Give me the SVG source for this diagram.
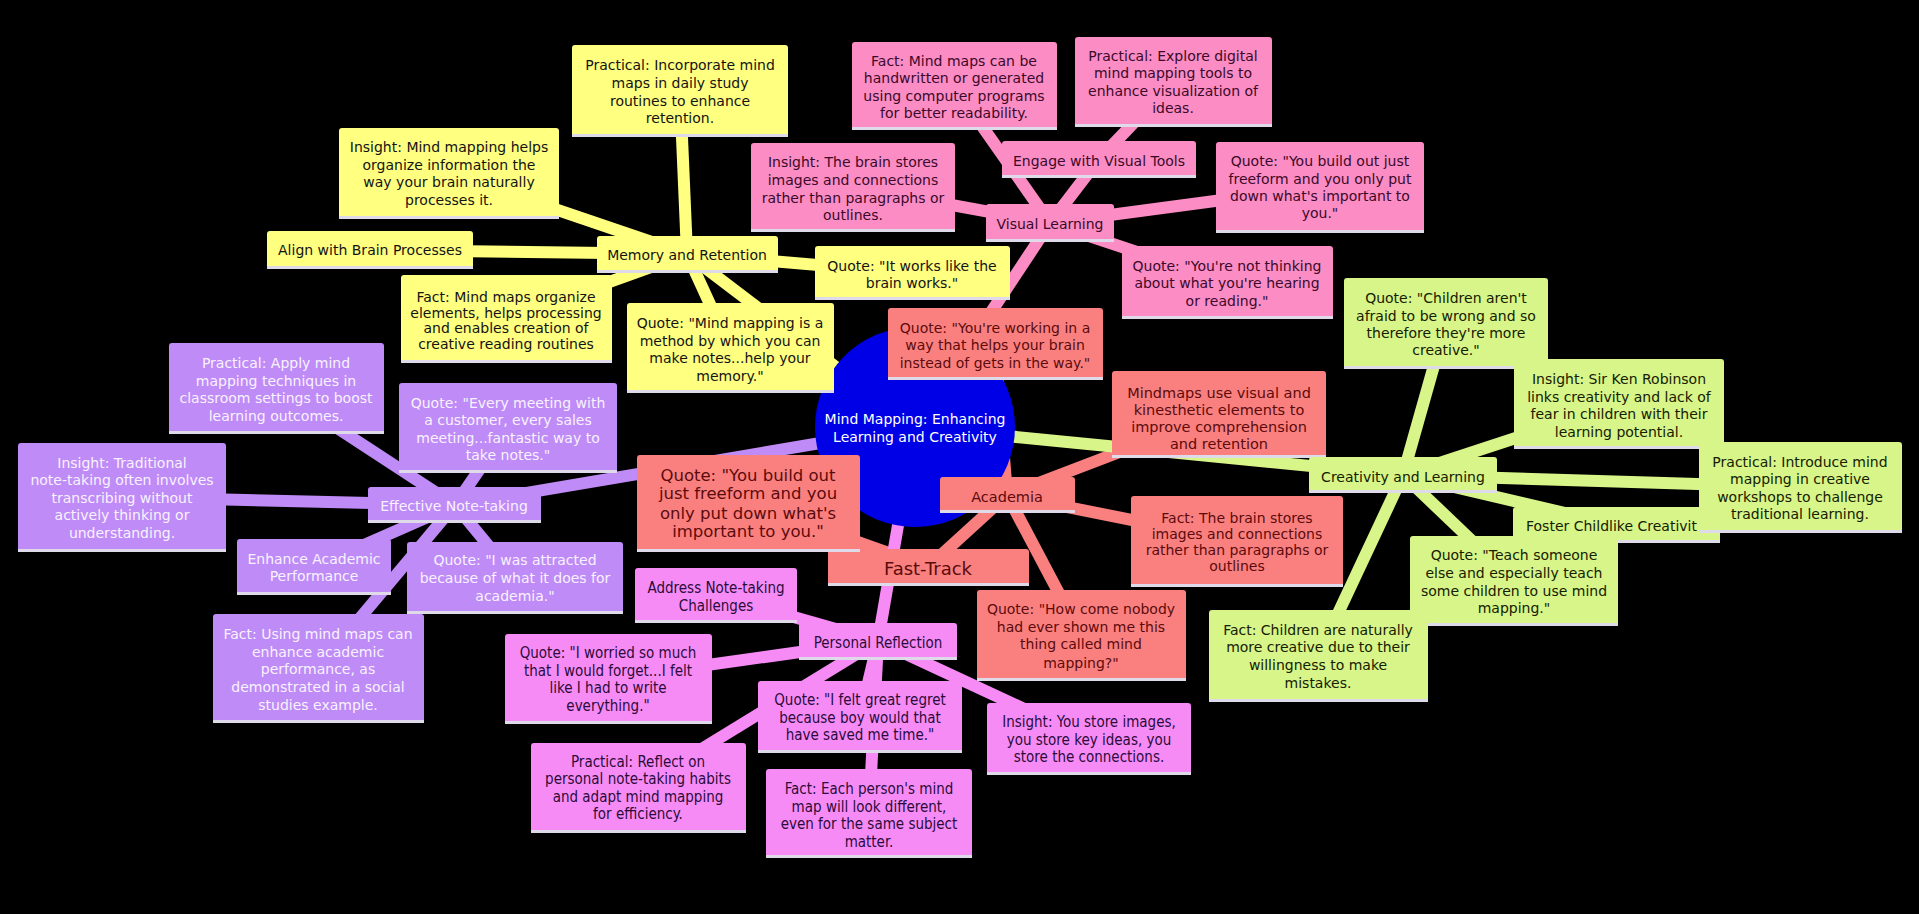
<svg xmlns="http://www.w3.org/2000/svg" width="1919" height="914" viewBox="0 0 1919 914">
<style>
  text { font-family: "DejaVu Sans", "Liberation Sans", sans-serif; font-size: 14px; text-anchor: middle; }
  .node rect.b { rx: 3px; ry: 3px; }
  .node rect.e { fill: #dedaea; }
  .y rect.b { fill: #ffff80; } .y text { fill: #141414; }
  .p rect.b { fill: #fb8cc4; } .p text { fill: #3b0a2a; }
  .s rect.b { fill: #fa8080; } .s text { fill: #5c0b0b; }
  .g rect.b { fill: #d7f589; } .g text { fill: #162000; }
  .u rect.b { fill: #bf8bf7; } .u text { fill: #f8f2ff; }
  .m rect.b { fill: #f78bf5; } .m text { fill: #2b0b3b; font-family: "DejaVu Sans Condensed", "DejaVu Sans", sans-serif; font-stretch: condensed; font-size: 15px; }
  #connectors line { stroke-width: 12; stroke-linecap: butt; }
  .cy { stroke: #ffff80; } .cp { stroke: #fb8cc4; } .cs { stroke: #fa8080; }
  .cg { stroke: #d7f589; } .cu { stroke: #bf8bf7; } .cm { stroke: #f78bf5; }
</style>
<rect x="0" y="0" width="1919" height="914" fill="#000000"/>
<g id="connectors">
  <line class="cy" x1="915" y1="427" x2="687" y2="254"/>
  <line class="cy" x1="687" y1="254" x2="680" y2="91"/>
  <line class="cy" x1="687" y1="254" x2="449" y2="173"/>
  <line class="cy" x1="687" y1="254" x2="370" y2="250"/>
  <line class="cy" x1="687" y1="254" x2="506" y2="319"/>
  <line class="cy" x1="687" y1="254" x2="912" y2="273"/>
  <line class="cy" x1="687" y1="254" x2="730" y2="348"/>
  <line class="cp" x1="915" y1="427" x2="1050" y2="223"/>
  <line class="cp" x1="1050" y1="223" x2="1099" y2="159"/>
  <line class="cp" x1="1050" y1="223" x2="954" y2="86"/>
  <line class="cp" x1="1099" y1="159" x2="1173" y2="82"/>
  <line class="cp" x1="1050" y1="223" x2="853" y2="187"/>
  <line class="cp" x1="1050" y1="223" x2="1320" y2="187"/>
  <line class="cp" x1="1050" y1="223" x2="1227" y2="282"/>
  <line class="cs" x1="915" y1="427" x2="1007" y2="495"/>
  <line class="cs" x1="1007" y1="495" x2="995" y2="344"/>
  <line class="cs" x1="1007" y1="495" x2="1219" y2="414"/>
  <line class="cs" x1="1007" y1="495" x2="1237" y2="541"/>
  <line class="cs" x1="1007" y1="495" x2="1081" y2="635"/>
  <line class="cs" x1="1007" y1="495" x2="928" y2="567"/>
  <line class="cs" x1="928" y1="567" x2="748" y2="503"/>
  <line class="cg" x1="915" y1="427" x2="1403" y2="475"/>
  <line class="cg" x1="1403" y1="475" x2="1446" y2="323"/>
  <line class="cg" x1="1403" y1="475" x2="1619" y2="404"/>
  <line class="cg" x1="1403" y1="475" x2="1800" y2="487"/>
  <line class="cg" x1="1403" y1="475" x2="1616" y2="525"/>
  <line class="cg" x1="1403" y1="475" x2="1514" y2="581"/>
  <line class="cg" x1="1403" y1="475" x2="1318" y2="656"/>
  <line class="cu" x1="915" y1="427" x2="455" y2="505"/>
  <line class="cu" x1="455" y1="505" x2="276" y2="388"/>
  <line class="cu" x1="455" y1="505" x2="122" y2="497"/>
  <line class="cu" x1="455" y1="505" x2="508" y2="428"/>
  <line class="cu" x1="455" y1="505" x2="314" y2="567"/>
  <line class="cu" x1="455" y1="505" x2="515" y2="578"/>
  <line class="cu" x1="455" y1="505" x2="318" y2="668"/>
  <line class="cm" x1="915" y1="427" x2="878" y2="641"/>
  <line class="cm" x1="878" y1="641" x2="716" y2="595"/>
  <line class="cm" x1="878" y1="641" x2="608" y2="679"/>
  <line class="cm" x1="878" y1="641" x2="860" y2="717"/>
  <line class="cm" x1="878" y1="641" x2="1089" y2="739"/>
  <line class="cm" x1="878" y1="641" x2="638" y2="788"/>
  <line class="cm" x1="878" y1="641" x2="869" y2="813"/>
</g>
<g id="root">
  <circle cx="915" cy="427" r="100" fill="#0000e6"/>
  <text fill="#ffffff"><tspan x="915" y="424">Mind Mapping: Enhancing</tspan><tspan x="915" y="442">Learning and Creativity</tspan></text>
</g>

<!-- Yellow: Memory and Retention -->
<g id="n-memory-insight" class="node y"><rect class="b" x="339" y="128" width="220" height="91"/><rect class="e" x="339" y="216" width="220" height="3"/>
  <text><tspan x="449" y="152">Insight: Mind mapping helps</tspan><tspan x="449" y="170">organize information the</tspan><tspan x="449" y="187">way your brain naturally</tspan><tspan x="449" y="205">processes it.</tspan></text></g>
<g id="n-align" class="node y"><rect class="b" x="267" y="231" width="206" height="38"/><rect class="e" x="267" y="266" width="206" height="3"/>
  <text><tspan x="370" y="255">Align with Brain Processes</tspan></text></g>
<g id="n-memory-fact" class="node y"><rect class="b" x="401" y="275" width="211" height="88"/><rect class="e" x="401" y="360" width="211" height="3"/>
  <text><tspan x="506" y="302">Fact: Mind maps organize</tspan><tspan x="506" y="318">elements, helps processing</tspan><tspan x="506" y="333">and enables creation of</tspan><tspan x="506" y="349">creative reading routines</tspan></text></g>
<g id="n-memory-practical" class="node y"><rect class="b" x="572" y="45" width="216" height="92"/><rect class="e" x="572" y="134" width="216" height="3"/>
  <text><tspan x="680" y="70">Practical: Incorporate mind</tspan><tspan x="680" y="88">maps in daily study</tspan><tspan x="680" y="106">routines to enhance</tspan><tspan x="680" y="123">retention.</tspan></text></g>
<g id="n-memory" class="node y"><rect class="b" x="597" y="236" width="181" height="37"/><rect class="e" x="597" y="270" width="181" height="3"/>
  <text><tspan x="687" y="260">Memory and Retention</tspan></text></g>
<g id="n-itworks" class="node y"><rect class="b" x="815" y="246" width="195" height="54"/><rect class="e" x="815" y="297" width="195" height="3"/>
  <text><tspan x="912" y="271">Quote: "It works like the</tspan><tspan x="912" y="288">brain works."</tspan></text></g>
<g id="n-quote-mm" class="node y"><rect class="b" x="627" y="303" width="207" height="90"/><rect class="e" x="627" y="390" width="207" height="3"/>
  <text><tspan x="730" y="328">Quote: "Mind mapping is a</tspan><tspan x="730" y="346">method by which you can</tspan><tspan x="730" y="363">make notes...help your</tspan><tspan x="730" y="381">memory."</tspan></text></g>

<!-- Pink: Visual Learning -->
<g id="n-visual-fact" class="node p"><rect class="b" x="852" y="42" width="205" height="88"/><rect class="e" x="852" y="127" width="205" height="3"/>
  <text><tspan x="954" y="66">Fact: Mind maps can be</tspan><tspan x="954" y="83">handwritten or generated</tspan><tspan x="954" y="101">using computer programs</tspan><tspan x="954" y="118">for better readability.</tspan></text></g>
<g id="n-visual-practical" class="node p"><rect class="b" x="1075" y="37" width="197" height="90"/><rect class="e" x="1075" y="124" width="197" height="3"/>
  <text><tspan x="1173" y="61">Practical: Explore digital</tspan><tspan x="1173" y="78">mind mapping tools to</tspan><tspan x="1173" y="96">enhance visualization of</tspan><tspan x="1173" y="113">ideas.</tspan></text></g>
<g id="n-visual-insight" class="node p"><rect class="b" x="751" y="143" width="204" height="89"/><rect class="e" x="751" y="229" width="204" height="3"/>
  <text><tspan x="853" y="167">Insight: The brain stores</tspan><tspan x="853" y="185">images and connections</tspan><tspan x="853" y="203">rather than paragraphs or</tspan><tspan x="853" y="220">outlines.</tspan></text></g>
<g id="n-engage" class="node p"><rect class="b" x="1002" y="141" width="194" height="37"/><rect class="e" x="1002" y="175" width="194" height="3"/>
  <text><tspan x="1099" y="166">Engage with Visual Tools</tspan></text></g>
<g id="n-visual" class="node p"><rect class="b" x="986" y="204" width="128" height="38"/><rect class="e" x="986" y="239" width="128" height="3"/>
  <text><tspan x="1050" y="229">Visual Learning</tspan></text></g>
<g id="n-visual-quote-build" class="node p"><rect class="b" x="1216" y="142" width="208" height="91"/><rect class="e" x="1216" y="230" width="208" height="3"/>
  <text><tspan x="1320" y="166">Quote: "You build out just</tspan><tspan x="1320" y="184">freeform and you only put</tspan><tspan x="1320" y="201">down what's important to</tspan><tspan x="1320" y="218">you."</tspan></text></g>
<g id="n-visual-quote-not" class="node p"><rect class="b" x="1122" y="246" width="211" height="73"/><rect class="e" x="1122" y="316" width="211" height="3"/>
  <text><tspan x="1227" y="271">Quote: "You're not thinking</tspan><tspan x="1227" y="288">about what you're hearing</tspan><tspan x="1227" y="306">or reading."</tspan></text></g>

<!-- Salmon: Academia -->
<g id="n-working" class="node s"><rect class="b" x="888" y="308" width="215" height="72"/><rect class="e" x="888" y="377" width="215" height="3"/>
  <text><tspan x="995" y="333">Quote: "You're working in a</tspan><tspan x="995" y="350">way that helps your brain</tspan><tspan x="995" y="368">instead of gets in the way."</tspan></text></g>
<g id="n-mindmaps" class="node s"><rect class="b" x="1112" y="371" width="214" height="87"/><rect class="e" x="1112" y="455" width="214" height="3"/>
  <text style="font-size:14.5px"><tspan x="1219" y="398">Mindmaps use visual and</tspan><tspan x="1219" y="415">kinesthetic elements to</tspan><tspan x="1219" y="432">improve comprehension</tspan><tspan x="1219" y="449">and retention</tspan></text></g>
<g id="n-academia-fact" class="node s"><rect class="b" x="1131" y="496" width="212" height="91"/><rect class="e" x="1131" y="584" width="212" height="3"/>
  <text><tspan x="1237" y="523">Fact: The brain stores</tspan><tspan x="1237" y="539">images and connections</tspan><tspan x="1237" y="555">rather than paragraphs or</tspan><tspan x="1237" y="571">outlines</tspan></text></g>
<g id="n-howcome" class="node s"><rect class="b" x="977" y="590" width="209" height="91"/><rect class="e" x="977" y="678" width="209" height="3"/>
  <text><tspan x="1081" y="614">Quote: "How come nobody</tspan><tspan x="1081" y="632">had ever shown me this</tspan><tspan x="1081" y="649">thing called mind</tspan><tspan x="1081" y="668">mapping?"</tspan></text></g>
<g id="n-fasttrack" class="node s"><rect class="b" x="828" y="549" width="201" height="37"/><rect class="e" x="828" y="583" width="201" height="3"/>
  <text style="font-size:18px"><tspan x="928" y="575">Fast-Track</tspan></text></g>
<g id="n-academia-quote-build" class="node s"><rect class="b" x="637" y="455" width="223" height="97"/><rect class="e" x="637" y="549" width="223" height="3"/>
  <text style="font-size:16.5px"><tspan x="748" y="481">Quote: "You build out</tspan><tspan x="748" y="499">just freeform and you</tspan><tspan x="748" y="519">only put down what's</tspan><tspan x="748" y="537">important to you."</tspan></text></g>
<g id="n-academia" class="node s"><rect class="b" x="940" y="477" width="135" height="36"/><rect class="e" x="940" y="510" width="135" height="3"/>
  <text style="font-size:14.5px"><tspan x="1007" y="502">Academia</tspan></text></g>

<!-- Green: Creativity and Learning -->
<g id="n-children" class="node g"><rect class="b" x="1344" y="278" width="204" height="91"/><rect class="e" x="1344" y="366" width="204" height="3"/>
  <text><tspan x="1446" y="303">Quote: "Children aren't</tspan><tspan x="1446" y="321">afraid to be wrong and so</tspan><tspan x="1446" y="338">therefore they're more</tspan><tspan x="1446" y="355">creative."</tspan></text></g>
<g id="n-creativity-insight" class="node g"><rect class="b" x="1514" y="359" width="210" height="90"/><rect class="e" x="1514" y="446" width="210" height="3"/>
  <text><tspan x="1619" y="384">Insight: Sir Ken Robinson</tspan><tspan x="1619" y="402">links creativity and lack of</tspan><tspan x="1619" y="419">fear in children with their</tspan><tspan x="1619" y="437">learning potential.</tspan></text></g>
<g id="n-creativity" class="node g"><rect class="b" x="1309" y="457" width="188" height="36"/><rect class="e" x="1309" y="490" width="188" height="3"/>
  <text><tspan x="1403" y="482">Creativity and Learning</tspan></text></g>
<g id="n-foster" class="node g"><rect class="b" x="1513" y="507" width="207" height="36"/><rect class="e" x="1513" y="540" width="207" height="3"/>
  <text style="text-anchor:start"><tspan x="1526" y="531">Foster Childlike Creativit</tspan></text></g>
<g id="n-creativity-practical" class="node g"><rect class="b" x="1699" y="442" width="203" height="91"/><rect class="e" x="1699" y="530" width="203" height="3"/>
  <text><tspan x="1800" y="467">Practical: Introduce mind</tspan><tspan x="1800" y="484">mapping in creative</tspan><tspan x="1800" y="502">workshops to challenge</tspan><tspan x="1800" y="519">traditional learning.</tspan></text></g>
<g id="n-teach" class="node g"><rect class="b" x="1410" y="536" width="208" height="90"/><rect class="e" x="1410" y="623" width="208" height="3"/>
  <text><tspan x="1514" y="560">Quote: "Teach someone</tspan><tspan x="1514" y="578">else and especially teach</tspan><tspan x="1514" y="596">some children to use mind</tspan><tspan x="1514" y="613">mapping."</tspan></text></g>
<g id="n-creativity-fact" class="node g"><rect class="b" x="1209" y="610" width="219" height="92"/><rect class="e" x="1209" y="699" width="219" height="3"/>
  <text><tspan x="1318" y="635">Fact: Children are naturally</tspan><tspan x="1318" y="652">more creative due to their</tspan><tspan x="1318" y="670">willingness to make</tspan><tspan x="1318" y="688">mistakes.</tspan></text></g>

<!-- Purple: Effective Note-taking -->
<g id="n-note-practical" class="node u"><rect class="b" x="169" y="343" width="215" height="91"/><rect class="e" x="169" y="431" width="215" height="3"/>
  <text><tspan x="276" y="368">Practical: Apply mind</tspan><tspan x="276" y="386">mapping techniques in</tspan><tspan x="276" y="403">classroom settings to boost</tspan><tspan x="276" y="421">learning outcomes.</tspan></text></g>
<g id="n-note-insight" class="node u"><rect class="b" x="18" y="443" width="208" height="109"/><rect class="e" x="18" y="549" width="208" height="3"/>
  <text><tspan x="122" y="468">Insight: Traditional</tspan><tspan x="122" y="485">note-taking often involves</tspan><tspan x="122" y="503">transcribing without</tspan><tspan x="122" y="520">actively thinking or</tspan><tspan x="122" y="538">understanding.</tspan></text></g>
<g id="n-note" class="node u"><rect class="b" x="368" y="487" width="173" height="36"/><rect class="e" x="368" y="520" width="173" height="3"/>
  <text><tspan x="454" y="511">Effective Note-taking</tspan></text></g>
<g id="n-meeting" class="node u"><rect class="b" x="399" y="383" width="218" height="90"/><rect class="e" x="399" y="470" width="218" height="3"/>
  <text><tspan x="508" y="408">Quote: "Every meeting with</tspan><tspan x="508" y="425">a customer, every sales</tspan><tspan x="508" y="443">meeting...fantastic way to</tspan><tspan x="508" y="460">take notes."</tspan></text></g>
<g id="n-enhance" class="node u"><rect class="b" x="237" y="539" width="154" height="56"/><rect class="e" x="237" y="592" width="154" height="3"/>
  <text><tspan x="314" y="564">Enhance Academic</tspan><tspan x="314" y="581">Performance</tspan></text></g>
<g id="n-attracted" class="node u"><rect class="b" x="407" y="542" width="216" height="72"/><rect class="e" x="407" y="611" width="216" height="3"/>
  <text><tspan x="515" y="565">Quote: "I was attracted</tspan><tspan x="515" y="583">because of what it does for</tspan><tspan x="515" y="601">academia."</tspan></text></g>
<g id="n-note-fact" class="node u"><rect class="b" x="213" y="614" width="211" height="109"/><rect class="e" x="213" y="720" width="211" height="3"/>
  <text><tspan x="318" y="639">Fact: Using mind maps can</tspan><tspan x="318" y="657">enhance academic</tspan><tspan x="318" y="674">performance, as</tspan><tspan x="318" y="692">demonstrated in a social</tspan><tspan x="318" y="710">studies example.</tspan></text></g>

<!-- Magenta: Personal Reflection -->
<g id="n-address" class="node m"><rect class="b" x="635" y="568" width="162" height="55"/><rect class="e" x="635" y="620" width="162" height="3"/>
  <text><tspan x="716" y="593">Address Note-taking</tspan><tspan x="716" y="611">Challenges</tspan></text></g>
<g id="n-reflection" class="node m"><rect class="b" x="799" y="623" width="158" height="37"/><rect class="e" x="799" y="657" width="158" height="3"/>
  <text><tspan x="878" y="648">Personal Reflection</tspan></text></g>
<g id="n-worried" class="node m"><rect class="b" x="505" y="634" width="207" height="90"/><rect class="e" x="505" y="721" width="207" height="3"/>
  <text><tspan x="608" y="658">Quote: "I worried so much</tspan><tspan x="608" y="676">that I would forget...I felt</tspan><tspan x="608" y="693">like I had to write</tspan><tspan x="608" y="711">everything."</tspan></text></g>
<g id="n-regret" class="node m"><rect class="b" x="758" y="681" width="204" height="72"/><rect class="e" x="758" y="750" width="204" height="3"/>
  <text><tspan x="860" y="705">Quote: "I felt great regret</tspan><tspan x="860" y="723">because boy would that</tspan><tspan x="860" y="740">have saved me time."</tspan></text></g>
<g id="n-reflection-insight" class="node m"><rect class="b" x="987" y="703" width="204" height="72"/><rect class="e" x="987" y="772" width="204" height="3"/>
  <text><tspan x="1089" y="727">Insight: You store images,</tspan><tspan x="1089" y="745">you store key ideas, you</tspan><tspan x="1089" y="762">store the connections.</tspan></text></g>
<g id="n-reflection-practical" class="node m"><rect class="b" x="531" y="743" width="215" height="90"/><rect class="e" x="531" y="830" width="215" height="3"/>
  <text><tspan x="638" y="767">Practical: Reflect on</tspan><tspan x="638" y="784">personal note-taking habits</tspan><tspan x="638" y="802">and adapt mind mapping</tspan><tspan x="638" y="819">for efficiency.</tspan></text></g>
<g id="n-reflection-fact" class="node m"><rect class="b" x="766" y="769" width="206" height="89"/><rect class="e" x="766" y="855" width="206" height="3"/>
  <text><tspan x="869" y="794">Fact: Each person's mind</tspan><tspan x="869" y="812">map will look different,</tspan><tspan x="869" y="829">even for the same subject</tspan><tspan x="869" y="847">matter.</tspan></text></g>
</svg>
